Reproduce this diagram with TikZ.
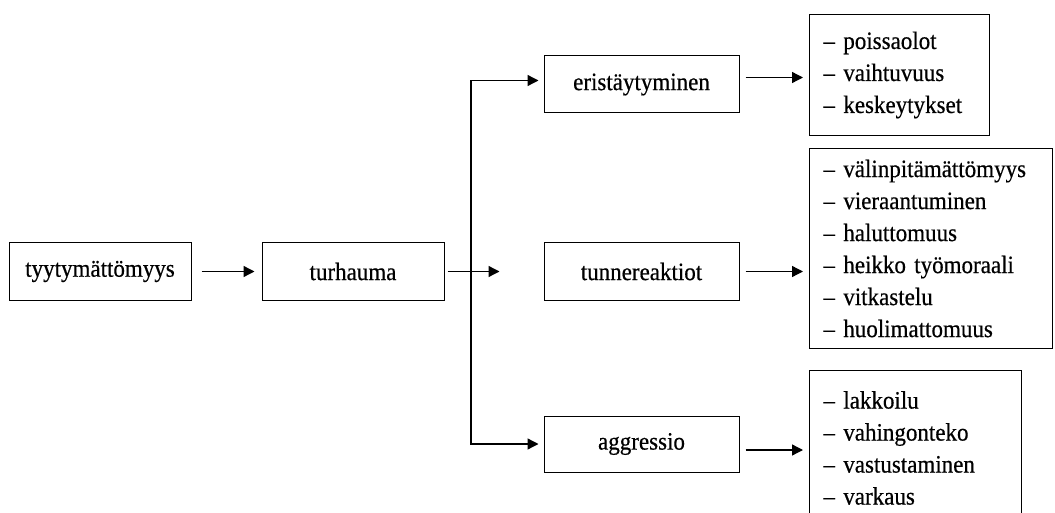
\documentclass[tikz,border=0pt]{standalone}
\usepackage{fontspec}
\setmainfont{Liberation Serif}[FakeStretch=0.92,FakeBold=0.5]
\usetikzlibrary{arrows.meta}
\begin{document}
\begin{tikzpicture}[x=1pt,y=-1pt,
  txt/.style={font=\fontsize{25}{32}\selectfont},
  box/.style={txt, draw, line width=1pt, minimum height=57pt, inner sep=0pt},
  listbox/.style={txt, draw, line width=1pt, align=left, inner xsep=14pt,
    inner ysep=0pt, anchor=north west},
  arr/.style={line width=1.3pt, -{Triangle[length=11pt,width=11pt]}}]
\useasboundingbox (0,0) rectangle (1055,513);
\clip (0,0) rectangle (1055,513);

% main chain
\node[box, minimum width=182pt] (tyy) at (100,271.5) {tyytymättömyys};
\node[box, minimum width=182pt] (turh) at (353,271.5) {turhauma};

% reactions
\node[box, minimum width=195pt] (eris) at (641.5,84.5) {eristäytyminen};
\node[box, minimum width=195pt] (tunn) at (641.5,271.5) {tunnereaktiot};
\node[box, minimum width=195pt, minimum height=56pt] (aggr) at (641.5,444) {aggressio};

% consequence lists
\node[listbox, text width=152pt, minimum height=121pt] (list1) at (809,14)
  {– poissaolot\\– vaihtuvuus\\– keskeytykset};
\node[listbox, text width=215pt, minimum height=200pt] (list2) at (809,148)
  {– välinpitämättömyys\\– vieraantuminen\\– haluttomuus\\– heikko työmoraali\\– vitkastelu\\– huolimattomuus};
\node[listbox, text width=184pt, minimum height=155pt] (list3) at (809,370)
  {– lakkoilu\\– vahingonteko\\– vastustaminen\\– varkaus};

% connectors
\draw[arr, shorten <=10pt, shorten >=7pt] (tyy) -- (turh);
\draw[arr, shorten <=3pt, shorten >=44pt] (turh) -- (tunn);
\coordinate (split) at (471,271.5);
\coordinate (eIn) at ([yshift=4pt]eris.west);
\draw[arr, shorten >=5pt] (split) |- (eIn);
\draw[arr, shorten >=5pt] (split) |- (aggr.west);

\coordinate (e1) at ([yshift=7pt]eris.east);
\coordinate (e2) at (tunn.east);
\coordinate (e3) at ([yshift=-6pt]aggr.east);
\draw[arr, shorten <=6pt, shorten >=6pt] (e1) -- (e1 -| list1.west);
\draw[arr, shorten <=6pt, shorten >=6pt] (e2) -- (e2 -| list2.west);
\draw[arr, shorten <=6pt, shorten >=6pt] (e3) -- (e3 -| list3.west);
\end{tikzpicture}
\end{document}
